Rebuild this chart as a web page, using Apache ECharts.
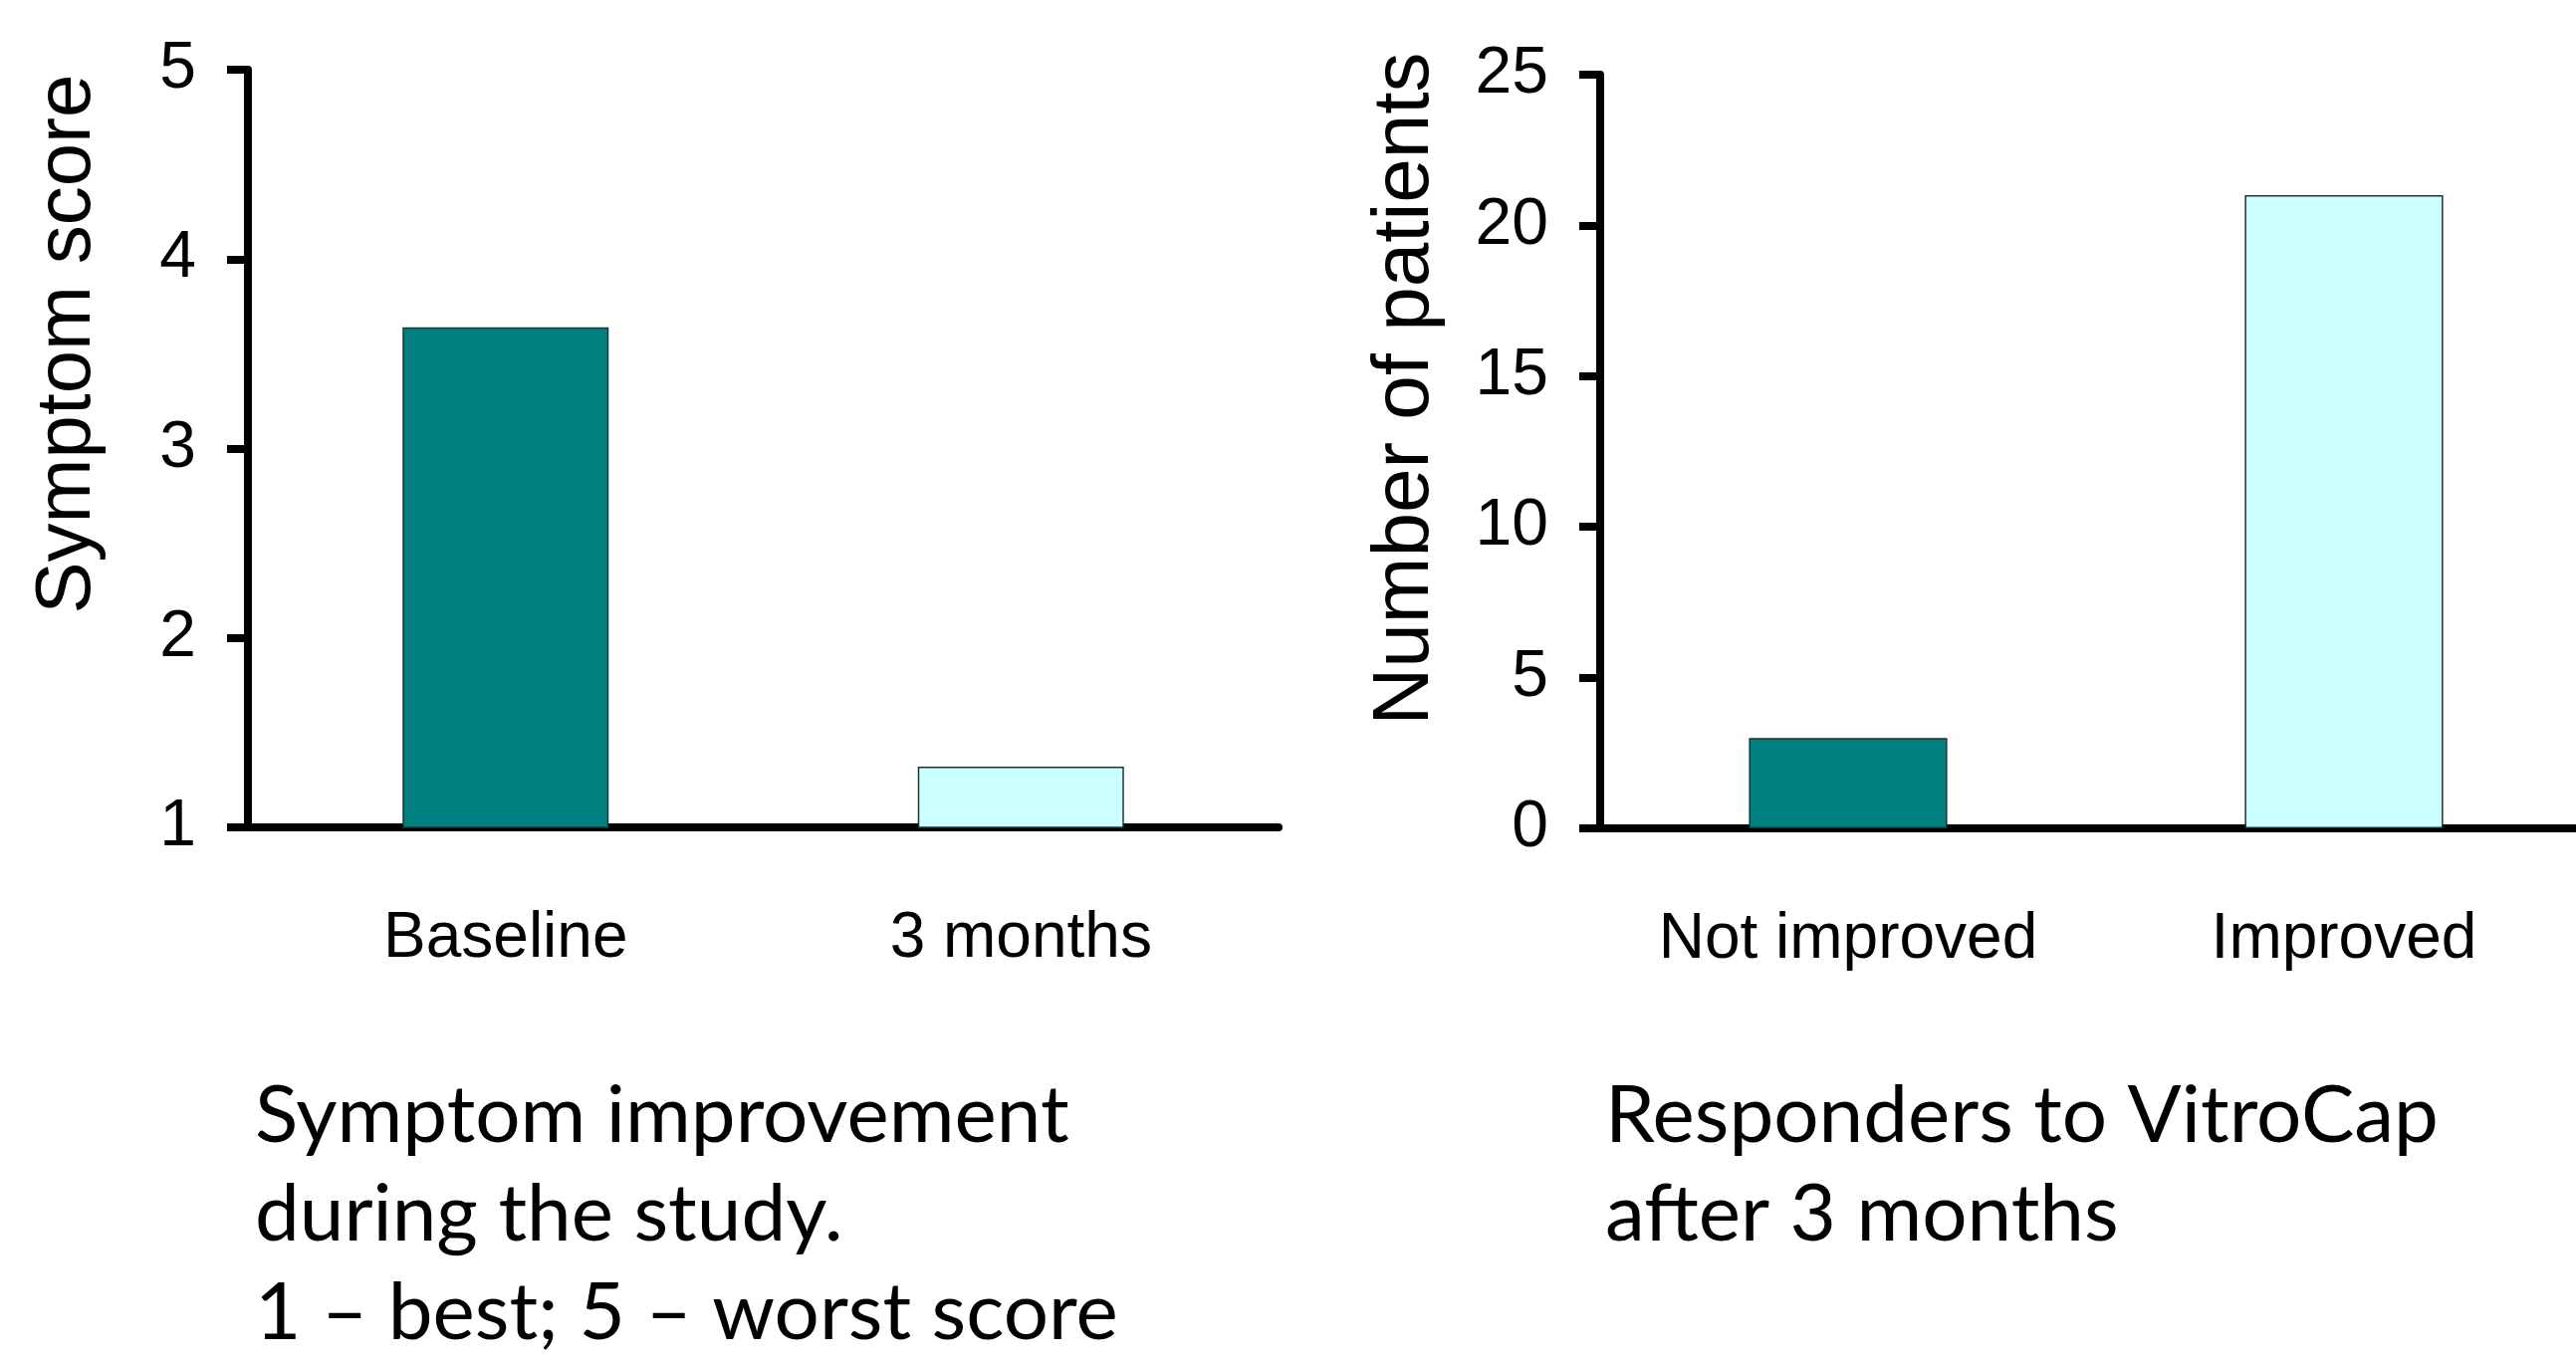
<!DOCTYPE html>
<html>
<head>
<meta charset="utf-8">
<script src="https://cdn.jsdelivr.net/npm/echarts@6/dist/echarts.min.js"></script>
<style>
  html, body { margin: 0; padding: 0; background: #ffffff; }
  #chart { width: 2587px; height: 1368px; }
</style>
</head>
<body>
<div id="chart"></div>
<script>
// Left panel: mean symptom score
const scoreCategories = ['Baseline', '3 months'];
const scoreValues = [3.64, 1.32];

// Right panel: responders after 3 months
const responderCategories = ['Not improved', 'Improved'];
const responderValues = [3, 21];

const barColors = ['#008080', '#CCFFFF'];

const captionLeft = 'Symptom improvement\nduring the study.\n1 \u2013 best; 5 \u2013 worst score';
const captionRight = 'Responders to VitroCap\nafter 3 months';

const axisFont = '"Liberation Sans", Arial, sans-serif';

function barData(values) {
  return values.map((v, i) => ({
    value: v,
    itemStyle: { color: barColors[i], borderColor: '#1f3333', borderWidth: 1.5 }
  }));
}

function xAxisFor(cats, gridIndex) {
  return {
    type: 'category',
    gridIndex: gridIndex,
    data: cats,
    boundaryGap: true,
    axisLine: { show: true, lineStyle: { color: '#000', width: 8 } },
    axisTick: { show: false },
    axisLabel: {
      color: '#000', fontSize: 64, fontFamily: axisFont, margin: 80,
      interval: 0, hideOverlap: false
    },
    splitLine: { show: false }
  };
}

function yAxisFor(opts) {
  return {
    type: 'value',
    gridIndex: opts.gridIndex,
    min: opts.min,
    max: opts.max,
    interval: opts.interval,
    name: opts.name,
    nameLocation: 'middle',
    nameRotate: 90,
    nameGap: opts.nameGap,
    nameTextStyle: {
      color: '#000', fontSize: opts.nameSize, fontFamily: axisFont,
      padding: [0, 0, 0, opts.shift]
    },
    axisLine: { show: true, lineStyle: { color: '#000', width: 8 } },
    axisTick: { show: true, length: 21, lineStyle: { color: '#000', width: 8 } },
    axisLabel: { color: '#000', fontSize: 66, fontFamily: axisFont, margin: 52 },
    splitLine: { show: false }
  };
}

const chart = echarts.init(document.getElementById('chart'), null, { renderer: 'canvas' });

chart.setOption({
  backgroundColor: '#ffffff',
  animation: false,
  grid: [
    { left: 249, top: 70, width: 1035, height: 761, outerBoundsMode: 'none', containLabel: false },
    { left: 1607, top: 75, width: 996, height: 757, outerBoundsMode: 'none', containLabel: false }
  ],
  xAxis: [
    xAxisFor(scoreCategories, 0),
    xAxisFor(responderCategories, 1)
  ],
  yAxis: [
    yAxisFor({ gridIndex: 0, min: 1, max: 5, interval: 1, name: 'Symptom score', nameSize: 78, nameGap: 142, shift: 210 }),
    yAxisFor({ gridIndex: 1, min: 0, max: 25, interval: 5, name: 'Number of patients', nameSize: 80, nameGap: 155, shift: 126 })
  ],
  series: [
    {
      type: 'bar', xAxisIndex: 0, yAxisIndex: 0,
      barWidth: '40%', clip: true,
      data: barData(scoreValues)
    },
    {
      type: 'bar', xAxisIndex: 1, yAxisIndex: 1,
      barWidth: '40%', clip: true,
      data: barData(responderValues)
    }
  ],
  graphic: [
    {
      type: 'text', left: 256, top: 1072,
      style: {
        text: captionLeft, fill: '#000',
        font: '80px Lato, "Open Sans", sans-serif', lineHeight: 99
      }
    },
    {
      type: 'text', left: 1612, top: 1072,
      style: {
        text: captionRight, fill: '#000',
        font: '80px Lato, "Open Sans", sans-serif', lineHeight: 99
      }
    }
  ]
});
</script>
</body>
</html>
